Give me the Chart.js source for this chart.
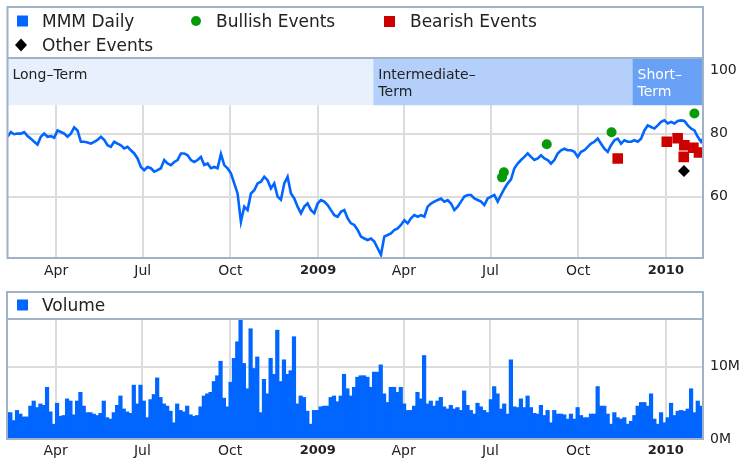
<!DOCTYPE html>
<html><head><meta charset="utf-8">
<script src="https://cdn.jsdelivr.net/npm/chart.js"></script>
<style>
html,body{margin:0;padding:0;background:#fff;}
#wrap{position:relative;width:739px;height:460px;overflow:hidden;background:#fff;}
canvas{position:absolute;left:0;}
#c1{top:0;} #c2{top:285px;}
</style></head><body>
<div id="wrap"><canvas id="c1" width="739" height="285"></canvas><canvas id="c2" width="739" height="175"></canvas></div>
<script>
// ---- data (x in days from 10 Feb 2008) ----
const tickDays = [51, 142, 234, 326, 416, 507, 599, 691];
const tickLabels = ['Apr', 'Jul', 'Oct', '2009', 'Apr', 'Jul', 'Oct', '2010'];
const dayStep = 3.5;
const priceValues = [
 79, 80.5, 79.8, 80, 80, 80.5, 79.2, 78.4, 77.4, 76.5,
 79, 80, 79, 79.2, 78.7, 81, 80.5, 80, 79, 80,
 82, 81, 77.4, 77.4, 77.2, 76.8, 77.4, 78, 79, 78,
 76.3, 75.8, 77.4, 76.8, 76.3, 75.3, 75.8, 74.7, 73.7, 72.1,
 69.4, 68.4, 69.4, 69, 67.9, 68.4, 69, 71.6, 70.5, 70,
 71, 71.6, 73.7, 73.7, 73.1, 71.6, 71, 71.6, 72.6, 70,
 70.5, 69, 69.4, 69, 73.5, 70, 69, 67.4, 64.2, 61,
 52, 56.8, 55.7, 61,
 62, 64.2, 64.7, 66.3, 65.2, 62.6, 64.2, 60, 59, 64.2,
 66.3, 61, 59.4, 56.8, 54.7, 56.8, 57.8, 55.7, 54.7, 57.8,
 58.9, 58.4, 57.3, 55.7, 54.1, 53.6, 55.2, 55.7, 53.1, 51.5,
 51, 49.4, 47.3, 46.7, 46.2, 46.7, 45.7, 43.6, 41.5, 47.3,
 47.8, 48.3, 49.4, 49.9, 51, 52.5, 51.5, 53.1, 54.1, 53.6,
 54.1, 53.6, 56.8, 57.8, 58.4, 58.9, 59.4, 58.4, 58.9, 57.8,
 55.7, 56.8, 58.4, 60, 60.5, 60.5, 59.4, 58.9, 58.4,
 57.3, 59.4, 60, 60.5, 58.4, 60.5, 62.5, 64.2, 65.5, 69,
 70.5, 71.6, 72.6, 73.7, 72.6, 71.6, 72.1, 73.1, 72.1, 71.6,
 70.5, 71.6, 73.7, 74.7, 75.2, 74.7, 74.7, 74.2, 72.6, 74.2,
 74.7, 75.8, 76.8, 77.4, 78.4, 76.8, 75.2, 74.2, 76.3, 77.9,
 78.4, 76.8, 77.9, 77.4, 77.4, 77.9, 77.4, 78.4, 81, 82.6,
 82.1, 81.6, 82.6, 83.7, 84.2, 83.2, 83.7, 83.2, 84, 84.2,
 84, 82.6, 81.6, 81, 79, 77.4, 79
];
const volumeValues = [
 3.7, 3.7, 2.6, 4.0, 3.5, 3.1, 3.1, 4.6, 5.3, 4.4,
 4.9, 4.7, 7.2, 3.8, 2.1, 5.0, 3.2, 3.3, 5.6, 5.3,
 3.4, 5.3, 6.5, 4.6, 3.7, 3.7, 3.5, 3.3, 3.6, 5.3,
 3.0, 2.8, 3.7, 4.7, 6.0, 4.2, 3.8, 3.6, 7.5, 4.9,
 7.5, 5.3, 3.0, 5.5, 6.2, 8.5, 5.8, 4.9, 4.6, 3.9,
 2.3, 4.9, 4.0, 3.8, 4.6, 3.4, 3.2, 3.3, 4.5, 6.0,
 6.3, 6.5, 8.0, 8.8, 10.8, 5.7, 4.5, 7.9, 11.2, 13.5,
 16.7, 10.5,
 7.0, 15.3, 9.8, 11.4, 3.7, 8.3, 6.3, 11.2, 9.0, 15.1,
 8.0, 11.0, 9.0, 9.5, 14.2, 4.9, 6.0, 5.8, 3.9, 2.1,
 4.0, 4.0, 4.5, 4.6, 4.6, 5.8, 6.0, 5.2, 6.0, 9.0,
 7.0, 6.0, 7.2, 8.6, 8.8, 8.8, 8.6, 7.2, 9.3, 9.3,
 10.3, 6.3, 5.1, 7.2, 7.2, 6.5, 7.2, 4.9, 4.0, 4.0,
 4.6, 6.5, 5.6, 11.6, 4.9, 5.3, 4.6, 5.3, 5.8, 4.5,
 4.2, 4.7, 4.2, 4.4, 4.0, 6.7, 4.7, 4.0, 3.5, 5.0,
 4.5, 4.0, 3.7, 5.5, 7.3, 6.3, 4.2, 4.9, 3.5, 11.0,
 4.5, 4.4, 5.6, 4.4, 6.0, 4.4, 3.6, 3.5, 4.7, 3.3,
 4.0, 2.3, 4.0, 3.5, 3.5, 3.4, 2.8, 3.5, 2.8, 4.4,
 3.3, 3.0, 3.0, 3.5, 3.5, 7.3, 4.6, 4.6, 3.5, 2.1,
 3.7, 3.0, 2.8, 3.0, 2.1, 2.5, 3.3, 4.6, 5.1, 5.1,
 4.6, 6.3, 2.8, 2.1, 3.7, 2.3, 3.0, 5.0, 3.3, 3.9,
 4.0, 3.9, 4.2, 7.0, 3.7, 5.3, 4.6, 2.3
];
const bullishDays = [519, 521, 566, 634, 721];
const bullishValues = [66.1, 67.7, 76.6, 80.4, 86.4];
const bearishDays = [640.5, 692, 703.4, 710.4, 709.8, 719.9, 725.8];
const bearishValues = [72.1, 77.4, 78.5, 76.3, 72.6, 75.5, 74.0];
const otherDays = [710];
const otherValues = [68.1];
const termLabels = [['Long–Term'], ['Intermediate–', 'Term'], ['Short–', 'Term']];
const termStarts = [0, 384, 656];
const termEnds = [384, 656, 730];
const priceTicks = [60, 80, 100];
const volumeTicks = [0, 10];
const volumeTickLabels = ['0M', '10M'];
const legendLabels = ['MMM Daily', 'Bullish Events', 'Bearish Events', 'Other Events'];
const volumeLabel = 'Volume';

// ---- styles ----
const FONT = '"DejaVu Sans", "Liberation Sans", sans-serif';
const BLUE = '#0066ff', GREEN = '#089a08', RED = '#cc0000', BLACK = '#000000';
const FRAME = '#a0b2c6', GRID = '#dcdcdc', TEXT = '#222222';
const bandColors = ['#e8f0fd', '#b4d0fa', '#68a1f6'];
const bandText = ['#222222', '#222222', '#ffffff'];

function pts(days, vals) { return vals.map((v, i) => ({x: days[i], y: v})); }
function seq(vals) { return vals.map((v, i) => ({x: i * dayStep, y: v})); }

function marker(ctx, style, x, y, color) {
  ctx.fillStyle = color;
  ctx.beginPath();
  if (style === 'square') ctx.rect(x - 5.5, y - 5.5, 11, 11);
  else if (style === 'circle') ctx.arc(x, y, 5, 0, Math.PI * 2);
  else { ctx.moveTo(x, y - 6.5); ctx.lineTo(x + 6, y); ctx.lineTo(x, y + 6.5); ctx.lineTo(x - 6, y); ctx.closePath(); }
  ctx.fill();
}

const xTickFont = (c) => /^\d{4}$/.test(tickLabels[c.index] || '') ?
  {family: FONT, size: 13, weight: 'bold'} : {family: FONT, size: 14};

function xScale(padding, height) {
  return {
    type: 'linear', min: 0, max: 730, offset: false,
    afterBuildTicks: s => { s.ticks = tickDays.map(v => ({value: v})); },
    afterFit: s => { s.height = height; },
    grid: {color: GRID, lineWidth: 2, drawTicks: false, offset: false},
    border: {display: false},
    ticks: {autoSkip: false, maxRotation: 0, padding: padding, color: TEXT, font: xTickFont,
            callback: (v, i) => tickLabels[i]}
  };
}

const mainPanel = {
  id: 'mainPanel',
  beforeDatasetsDraw(chart) {
    const {ctx, chartArea: a, scales: {x, y}} = chart;
    const bottom = y.getPixelForValue(89);
    ctx.save();
    termLabels.forEach((lines, i) => {
      const x0 = Math.max(a.left, x.getPixelForValue(termStarts[i]));
      const x1 = Math.min(a.right, x.getPixelForValue(termEnds[i]));
      ctx.fillStyle = bandColors[i];
      ctx.fillRect(x0, a.top, x1 - x0, bottom - a.top);
      ctx.fillStyle = bandText[i];
      ctx.font = '14px ' + FONT;
      ctx.textBaseline = 'alphabetic';
      lines.forEach((t, j) => ctx.fillText(t, x0 + 5, a.top + 21 + j * 16.7));
    });
    ctx.restore();
  },
  afterDraw(chart) {
    const {ctx, chartArea: a} = chart;
    ctx.save();
    ctx.strokeStyle = FRAME; ctx.lineWidth = 2;
    ctx.strokeRect(a.left, 7, a.right - a.left, a.bottom - 7);
    ctx.beginPath(); ctx.moveTo(a.left, a.top); ctx.lineTo(a.right, a.top); ctx.stroke();
    marker(ctx, 'square', 22.5, 21, BLUE);
    marker(ctx, 'circle', 196, 21, GREEN);
    marker(ctx, 'square', 389.5, 21.5, RED);
    marker(ctx, 'diamond', 21, 45, BLACK);
    ctx.fillStyle = TEXT; ctx.font = '17px ' + FONT; ctx.textBaseline = 'alphabetic';
    ctx.fillText(legendLabels[0], 42, 27);
    ctx.fillText(legendLabels[1], 216, 27);
    ctx.fillText(legendLabels[2], 410, 27);
    ctx.fillText(legendLabels[3], 42, 51);
    ctx.restore();
  }
};

const volPanel = {
  id: 'volPanel',
  afterDraw(chart) {
    const {ctx, chartArea: a} = chart;
    ctx.save();
    ctx.strokeStyle = FRAME; ctx.lineWidth = 2;
    ctx.strokeRect(a.left, 7, a.right - a.left, a.bottom - 7);
    ctx.beginPath(); ctx.moveTo(a.left, a.top); ctx.lineTo(a.right, a.top); ctx.stroke();
    marker(ctx, 'square', 22.5, 20, BLUE);
    ctx.fillStyle = TEXT; ctx.font = '17px ' + FONT; ctx.textBaseline = 'alphabetic';
    ctx.fillText(volumeLabel, 42, 26);
    ctx.restore();
  }
};

new Chart(document.getElementById('c1'), {
  type: 'line',
  data: {datasets: [
    {label: legendLabels[0], data: seq(priceValues), borderColor: BLUE, borderWidth: 2.6, pointRadius: 0, tension: 0, order: 1},
    {label: legendLabels[1], data: pts(bullishDays, bullishValues), showLine: false, pointStyle: 'circle', pointRadius: 5, backgroundColor: GREEN, borderWidth: 0, order: 0},
    {label: legendLabels[2], data: pts(bearishDays, bearishValues), showLine: false, pointStyle: 'rect', pointRadius: 7.5, backgroundColor: RED, borderWidth: 0, order: 0},
    {label: legendLabels[3], data: pts(otherDays, otherValues), showLine: false, pointStyle: 'rectRot', pointRadius: 6, backgroundColor: BLACK, borderWidth: 0, order: 0}
  ]},
  options: {
    responsive: false, devicePixelRatio: 1, animation: false,
    layout: {padding: {left: 7, top: 58, right: 0, bottom: 0}},
    plugins: {legend: {display: false}, tooltip: {enabled: false}},
    scales: {
      x: xScale(5, 27),
      y: {position: 'right', min: 40.5, max: 104,
          afterBuildTicks: s => { s.ticks = priceTicks.map(v => ({value: v})); },
          afterFit: s => { s.width = 36; },
          grid: {color: GRID, lineWidth: 2, drawTicks: false},
          border: {display: false},
          ticks: {padding: 7, color: TEXT, font: {family: FONT, size: 14}}}
    }
  },
  plugins: [mainPanel]
});

new Chart(document.getElementById('c2'), {
  type: 'bar',
  data: {datasets: [
    {label: volumeLabel, data: seq(volumeValues), backgroundColor: BLUE, borderWidth: 0, barThickness: 4.2, inflateAmount: 0}
  ]},
  options: {
    responsive: false, devicePixelRatio: 1, animation: false,
    layout: {padding: {left: 7, top: 34, right: 0, bottom: 0}},
    plugins: {legend: {display: false}, tooltip: {enabled: false}},
    scales: {
      x: xScale(3.5, 21),
      y: {position: 'right', min: 0, max: 16.6,
          afterBuildTicks: s => { s.ticks = volumeTicks.map(v => ({value: v})); },
          afterFit: s => { s.width = 36; },
          grid: {color: GRID, lineWidth: 2, drawTicks: false},
          border: {display: false},
          ticks: {padding: 7, color: TEXT, font: {family: FONT, size: 14},
                  callback: (v, i) => volumeTickLabels[i]}}
    }
  },
  plugins: [volPanel]
});
</script>
</body></html>
